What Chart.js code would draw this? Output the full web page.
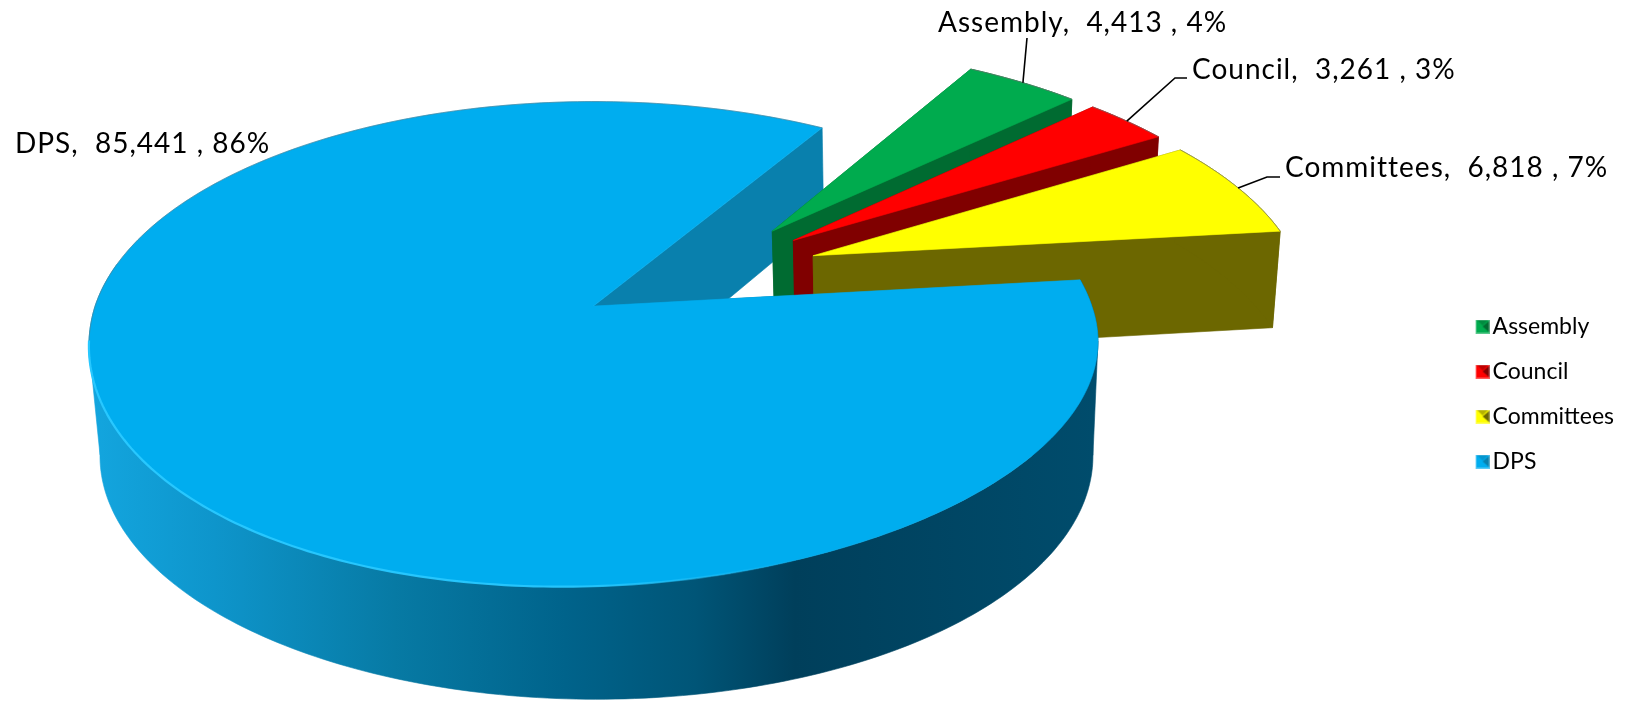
<!DOCTYPE html>
<html>
<head>
<meta charset="utf-8">
<title>Pie</title>
<script src="https://cdn.jsdelivr.net/npm/chart.js@4/dist/chart.umd.js"></script>
<style>
  html, body { margin: 0; padding: 0; background: #fff; overflow: hidden; }
  canvas { display: block; }
</style>
</head>
<body>
<canvas id="pie" width="1634" height="703"></canvas>
<script>
const categories = ['Assembly', 'Council', 'Committees', 'DPS'];
const seriesValues = [4413, 3261, 6818, 85441];
const percentLabels = [4, 3, 7, 86];

const topColors = ['#00AB4E', '#FF0000', '#FFFF00', '#00ADEF'];
const wallColors = ['#006B31', '#800000', '#6C6700', '#0980AD'];
const explode = [0.25, 0.25, 0.25, 0.26];

// where the text sits: left edge, baseline
const labelSpots = [[938, 32], [1192, 79], [1285, 177], [15, 153]];
const labelFont = '28px Lato';

// the view: perspective of the top plane and how the lower planes map from it
const view = { x: 595, y: 308, rx: 499, ry: 237, k: 0.156, cu: 0.216, cv: -0.148, tilt: 0.03 };
const cutPlane = { x: 601, y: 408, sx: 0.98, sy: 1.045 };
const wallPlane = { x: 598, y: 420, sx: 0.984, sy: 1.004 };

function project(u, v, plane) {
  const w = 1 / (1 - view.k * v);
  let px = view.x + view.rx * u * w;
  let py = view.y + view.ry * v * w;
  if (plane) {
    px = plane.x + plane.sx * (px - view.x);
    py = plane.y + plane.sy * (py - view.y);
  } else {
    // the front of the disc leans a little, left side lower than the right
    py -= view.tilt * (px - view.x) * Math.max(v, 0);
  }
  return [px, py];
}

function sliceGeometry(el) {
  const { startAngle, endAngle } = el.getProps(['startAngle', 'endAngle'], true);
  // offset is read as a share of the radius here
  const mid = (startAngle + endAngle) / 2;
  const cu = view.cu + el.options.offset * Math.cos(mid);
  const cv = view.cv + el.options.offset * Math.sin(mid);
  const steps = Math.max(8, Math.round((endAngle - startAngle) * 60));
  const ring = [];
  for (let i = 0; i <= steps; i++) {
    const a = startAngle + (endAngle - startAngle) * i / steps;
    ring.push([cu + Math.cos(a), cv + Math.sin(a)]);
  }
  return { cu, cv, ring, mid };
}

function fillPoly(ctx, pts, fill) {
  ctx.beginPath();
  pts.forEach((p, i) => i ? ctx.lineTo(p[0], p[1]) : ctx.moveTo(p[0], p[1]));
  ctx.closePath();
  ctx.fillStyle = fill;
  ctx.fill();
  // hairline in the same colour so neighbouring facets do not show a seam
  ctx.strokeStyle = fill;
  ctx.lineWidth = 0.6;
  ctx.stroke();
}

function drawCuts(ctx, g, color) {
  const first = g.ring[0], last = g.ring[g.ring.length - 1];
  [first, last].forEach(end => {
    fillPoly(ctx, [
      project(g.cu, g.cv), project(end[0], end[1]),
      project(end[0], end[1], cutPlane), project(g.cu, g.cv, cutPlane)
    ], color);
  });
}

function drawOuterWall(ctx, ring, plane, fill) {
  const upper = ring.map(p => project(p[0], p[1]));
  const lower = ring.map(p => project(p[0], p[1], plane)).reverse();
  fillPoly(ctx, upper.concat(lower), fill);
}

function drawTop(ctx, g, color) {
  const pts = [project(g.cu, g.cv)].concat(g.ring.map(p => project(p[0], p[1])));
  fillPoly(ctx, pts, color);
}

function strokeRim(ctx, pts, style, width) {
  ctx.beginPath();
  pts.forEach((p, i) => i ? ctx.lineTo(p[0], p[1]) : ctx.moveTo(p[0], p[1]));
  ctx.strokeStyle = style;
  ctx.lineWidth = width;
  ctx.stroke();
}

// widest points of a list of projected points
function widest(pts) {
  return pts.reduce((o, p) => ({
    left: p[0] < o.left[0] ? p : o.left,
    right: p[0] > o.right[0] ? p : o.right
  }), { left: pts[0], right: pts[0] });
}

const pie3d = {
  id: 'pie3d',
  beforeDatasetsDraw(chart) {
    const ctx = chart.ctx;
    const arcs = chart.getDatasetMeta(0).data;
    const geo = arcs.map(sliceGeometry);
    const big = geo.length - 1;
    ctx.save();
    ctx.lineJoin = 'round';

    drawCuts(ctx, geo[big], wallColors[big]);

    for (let i = 0; i < big; i++) {
      drawCuts(ctx, geo[i], wallColors[i]);
      drawOuterWall(ctx, geo[i].ring, cutPlane, wallColors[i]);
      drawTop(ctx, geo[i], topColors[i]);
      strokeRim(ctx, geo[i].ring.map(p => project(p[0], p[1])), 'rgba(110,110,110,0.65)', 1);
    }

    const shade = ctx.createLinearGradient(95, 0, 1095, 0);
    shade.addColorStop(0, '#13A5DE');
    shade.addColorStop(0.12, '#0E95CB');
    shade.addColorStop(0.3, '#077AA4');
    shade.addColorStop(0.47, '#00638B');
    shade.addColorStop(0.6, '#005577');
    shade.addColorStop(0.7, '#003F5B');
    shade.addColorStop(1, '#004C6C');
    // back of the rim is hidden, only the front part gets a wall
    const front = geo[big].ring.filter(p => p[1] > -0.2);
    drawOuterWall(ctx, front, wallPlane, shade);
    // straight sides between the disc and its lower edge
    const up = widest(front.map(p => project(p[0], p[1])));
    const low = widest(front.map(p => project(p[0], p[1], wallPlane)));
    fillPoly(ctx, [up.left, low.left, low.right, up.right], shade);
    drawTop(ctx, geo[big], topColors[big]);

    const rimPts = geo[big].ring.map(p => project(p[0], p[1]));
    strokeRim(ctx, rimPts.filter(p => p[1] < view.y + 40 && p[0] < 900), 'rgba(110,110,110,0.45)', 1);
    const glow = ctx.createLinearGradient(85, 0, 800, 0);
    glow.addColorStop(0, 'rgba(40,200,255,1)');
    glow.addColorStop(0.7, 'rgba(40,200,255,0.9)');
    glow.addColorStop(1, 'rgba(40,200,255,0)');
    strokeRim(ctx, rimPts.filter(p => p[1] > view.y + 30 && p[0] < 800), glow, 2.2);

    ctx.restore();
    return false;
  },
  afterDraw(chart) {
    const ctx = chart.ctx;
    const arcs = chart.getDatasetMeta(0).data;
    // leader lines run from the rim middle of each small slice to its label
    const leaderEnds = [[[1027, 38]], [[1175, 78], [1187, 78]], [[1267, 177], [1280, 177]]];
    ctx.save();
    ctx.strokeStyle = '#000';
    ctx.lineWidth = 1.6;
    leaderEnds.forEach((ends, i) => {
      const g = sliceGeometry(arcs[i]);
      const start = project(g.cu + Math.cos(g.mid), g.cv + Math.sin(g.mid));
      ctx.beginPath();
      ctx.moveTo(start[0], start[1]);
      ends.forEach(p => ctx.lineTo(p[0], p[1]));
      ctx.stroke();
    });
    ctx.fillStyle = '#000';
    ctx.font = labelFont;
    ctx.letterSpacing = '1px';
    ctx.textBaseline = 'alphabetic';
    categories.forEach((name, i) => {
      const text = name + ',  ' + seriesValues[i].toLocaleString('en-US') + ' , ' + percentLabels[i] + '%';
      ctx.fillText(text, labelSpots[i][0], labelSpots[i][1]);
    });
    ctx.restore();
  }
};

// small bevelled square for the legend, canvas is wider so it sits closer to the text
function legendSwatch(color, dark) {
  const c = document.createElement('canvas');
  c.width = 18;
  c.height = 14;
  const x = c.getContext('2d');
  x.translate(4, 0);
  x.fillStyle = color;
  x.fillRect(0, 0, 14, 14);
  x.fillStyle = dark;
  x.beginPath(); x.moveTo(14, 1); x.lineTo(7, 7); x.lineTo(14, 13); x.closePath(); x.fill();
  x.globalAlpha = 0.5;
  x.beginPath(); x.moveTo(1, 0); x.lineTo(7, 6); x.lineTo(13, 0); x.closePath(); x.fill();
  x.globalAlpha = 1;
  x.strokeStyle = 'rgba(255,255,255,0.35)';
  x.strokeRect(0.5, 0.5, 13, 13);
  return c;
}
const swatches = categories.map((c, i) => legendSwatch(topColors[i], wallColors[i]));

new Chart(document.getElementById('pie'), {
  type: 'pie',
  data: {
    labels: categories,
    datasets: [{
      data: seriesValues,
      backgroundColor: topColors,
      borderWidth: 0,
      offset: explode
    }]
  },
  plugins: [pie3d],
  options: {
    responsive: false,
    animation: false,
    rotation: 31.3,
    layout: { padding: { top: 85, right: 10 } },
    plugins: {
      tooltip: { enabled: false },
      legend: {
        position: 'right',
        labels: {
          usePointStyle: true,
          boxWidth: 1,
          boxHeight: 14,
          padding: 22,
          color: '#000',
          font: { family: 'Lato', size: 23 },
          generateLabels(chart) {
            const items = Chart.overrides.pie.plugins.legend.labels.generateLabels(chart);
            return items.map((it, i) => Object.assign(it, { pointStyle: swatches[i] }));
          }
        }
      }
    }
  }
});
</script>
</body>
</html>
